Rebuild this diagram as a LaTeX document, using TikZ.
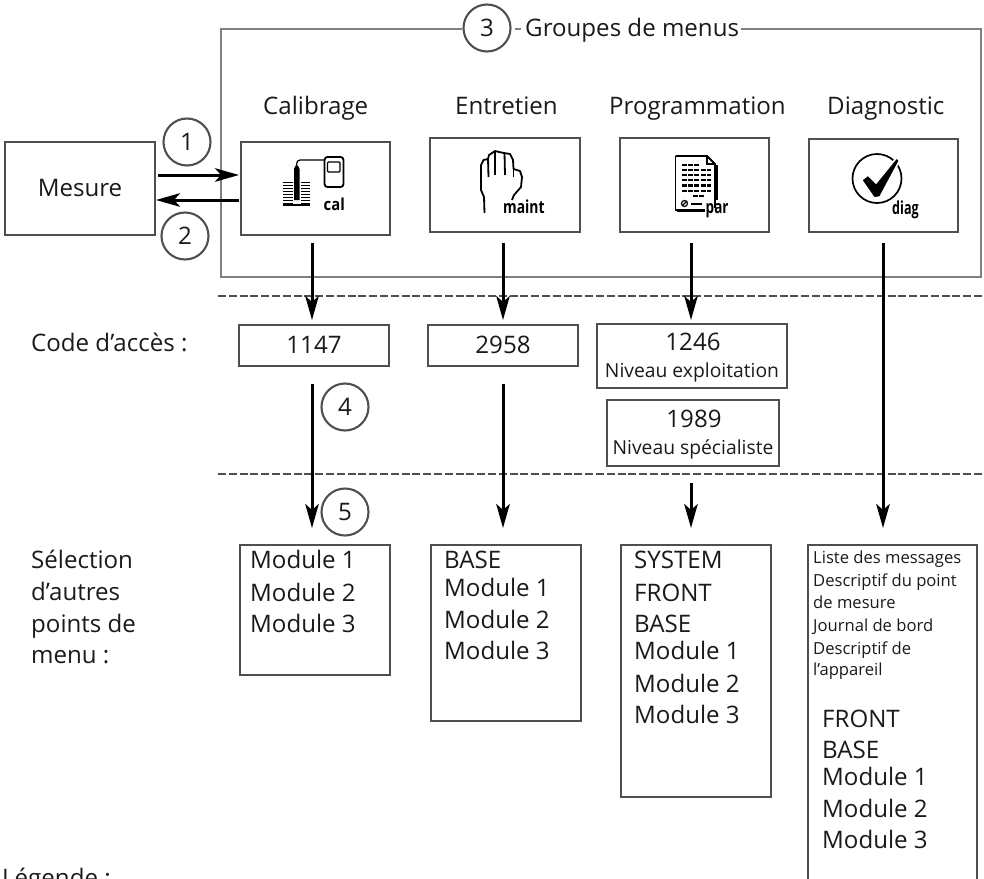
\documentclass[tikz,border=0pt]{standalone}
\usepackage{fontspec}
\setmainfont{Open Sans}
\usetikzlibrary{arrows.meta}
\definecolor{boxgray}{HTML}{4F4F4F}
\definecolor{framegray}{HTML}{808080}
\definecolor{ink}{HTML}{1A1A1A}
\newcommand{\fbig}{\fontsize{24.1}{28}\selectfont}
\newcommand{\fmid}{\fontsize{19.3}{23}\selectfont}
\newcommand{\fsmall}{\fontsize{16.6}{20}\selectfont}
\newcommand{\iconfont}{\fontsize{16.5}{18}\bfseries\selectfont}
\newcommand{\iconfontb}{\fontsize{18}{20}\bfseries\selectfont}
\tikzset{
  boxnode/.style={draw=boxgray,line width=2.9pt,fill=white,inner sep=0pt,text=ink},
  framepath/.style={draw=framegray,line width=2.9pt},
  numcircle/.style={circle,draw=boxgray,line width=2.1pt,fill=white,minimum size=47pt,inner sep=0pt,font=\fbig,text=ink},
  biglabel/.style={anchor=base west,inner sep=0pt,font=\fbig,text=ink},
  smalllabel/.style={anchor=base west,inner sep=0pt,font=\fsmall,text=ink},
  midcenter/.style={anchor=base,inner sep=0pt,font=\fmid,text=ink},
  bigcenter/.style={anchor=base,inner sep=0pt,font=\fbig,text=ink},
  iconlabel/.style={anchor=base west,inner sep=0pt,font=\iconfont,text=black},
  iconlabelb/.style={anchor=base west,inner sep=0pt,font=\iconfontb,text=black},
  flow/.style={draw=black,line width=3pt,-{Stealth[length=24pt,width=13.5pt,inset=6pt]}},
  separator/.style={draw=boxgray,line width=2.7pt,dash pattern=on 8pt off 2.8pt},
  iconline/.style={draw=black,line width=1.8pt,line join=round}
}
\begin{document}
\begin{tikzpicture}[x=1pt,y=-1pt]
\useasboundingbox (0,0) rectangle (984,878);
\clip (0,0) rectangle (984,878);

% numbered circle and title of the frame
\node[numcircle] (c3) at (487,28) {3};
\node[biglabel] (grp) at (525,36) {Groupes de menus};
\coordinate (dashL) at (515,29);
\coordinate (dashR) at (521,29);
\coordinate (fTL) at (221,29);
\coordinate (fBL) at (221,277);
\coordinate (fBR) at (981,277);
\coordinate (fTR) at (981,29);
\draw[framepath] (c3.west |- fTL) -- (fTL) -- (fBL) -- (fBR) -- (fTR) -- ([xshift=2pt]grp.east |- fTR);
\draw[framepath] (dashL) -- (dashR);

% separators
\coordinate (s1L) at (218,296); \coordinate (s1R) at (984,296);
\coordinate (s2L) at (218,474); \coordinate (s2R) at (984,474);
\draw[separator] (s1L) -- (s1R);
\draw[separator] (s2L) -- (s2R);

% group titles
\node[biglabel] (tcal) at (263,114) {Calibrage};
\node[biglabel] (tent) at (455,114) {Entretien};
\node[biglabel] (tpro) at (609,114) {Programmation};
\node[biglabel] (tdia) at (827,114) {Diagnostic};

% top boxes
\node[boxnode,minimum width=150pt,minimum height=93pt,font=\fbig] (mes) at (80,188.5) {Mesure};
\node[boxnode,minimum width=149pt,minimum height=93pt] (cal) at (315.5,188.5) {};
\node[boxnode,minimum width=150pt,minimum height=94pt] (ent) at (505,185) {};
\node[boxnode,minimum width=149pt,minimum height=94pt] (pro) at (694.5,185) {};
\node[boxnode,minimum width=149pt,minimum height=93pt] (dia) at (883.5,185.5) {};

% icon: calibration
\draw[black,line width=1.8pt,rounded corners=3pt] (324.5,157) rectangle (343.5,187);
\draw[black,line width=1.2pt,rounded corners=1pt] (327.5,162) rectangle (340,172);
\draw[black,line width=1.2pt,rounded corners=3pt] (324.5,160) -- (297,160) -- (296.5,168);
\fill[black] (294,169) -- (295.5,165.5) -- (298,165.5) -- (299.5,169) -- (299.5,200) -- (294,200) -- cycle;
\foreach \yy in {182.5,185.5,188.5,191.5,194.5,197.5,200.5,203.5}{
  \draw[black,line width=1.6pt] (283,\yy) -- (292.5,\yy);
  \draw[black,line width=1.6pt] (301,\yy) -- (310,\yy);
}
\draw[black,line width=1.6pt] (283,205) -- (310,205);
\node[iconlabel] (lcal) at (323.5,210) {\scalebox{0.9}[1]{cal}};

% icon: maintenance hand
\draw[iconline] (484.5,213) -- (484,197) -- (481,190) -- (481,165) -- (483.5,160) -- (488,159)
  (488,159) -- (489,155) -- (495,151) -- (499,152) -- (504,153) -- (510,154) -- (513,160) -- (513.5,169)
  -- (520,171) -- (522,177) -- (521,187) -- (514,195) -- (512,200);
\draw[iconline] (488,159) -- (488.5,177);
\draw[iconline] (495,151) -- (495,175);
\draw[iconline] (504.5,153) -- (505,175);
\draw[iconline] (513.5,162) -- (513.5,177);
\node[iconlabelb] (lent) at (503,213) {\scalebox{0.77}[1]{maint}};

% icon: parameter sheet
\draw[black,line width=1.8pt] (675.5,156) -- (707,156) -- (715,164) -- (715,208);
\draw[black,line width=1.8pt] (675.5,156) -- (675.5,210) -- (705,210);
\draw[black,line width=1.2pt] (707,156) -- (707,164) -- (715,164);
\draw[black,line width=2.2pt] (716.5,165) -- (716.5,200);
\draw[black,line width=2.2pt] (677,211) -- (705,211);
\foreach \yy/\xa/\xb in {165/682/700, 170/682/711, 175/682/711, 180/682/711, 185.5/682/711, 191/682/711, 196/693/705}{
  \draw[black,line width=2.2pt,dash pattern=on 5pt off 1.2pt] (\xa,\yy) -- (\xb,\yy);
}
\draw[black,line width=1.2pt] (684.5,203.5) circle (3pt);
\draw[black,line width=1.2pt] (682,206) -- (687,201);
\draw[black,line width=1.8pt] (691,204) -- (702,204);
\node[iconlabelb] (lpro) at (705.5,213) {\scalebox{0.75}[1]{par}};

% icon: diagnosis check
\draw[black,line width=1.7pt] (877,178.5) circle (24.5pt);
\fill[black,draw=white,line width=1.6pt] (861.5,180) -- (868,175) -- (876,183) -- (896.7,157.5) -- (899.5,160.7) -- (880,197) -- (874,198) -- cycle;
\node[iconlabelb] (ldia) at (892,214) {\scalebox{0.7}[1]{diag}};

% circles 1 2
\node[numcircle] (c1) at (187,142) {1};
\node[numcircle] (c2) at (185,236) {2};
\coordinate (a1s) at (158,175); \coordinate (a1e) at (239,175);
\coordinate (a2s) at (239,200); \coordinate (a2e) at (156,200);
\draw[flow] (a1s) -- (a1e);
\draw[flow] (a2s) -- (a2e);

% access codes
\node[biglabel] (lcode) at (31,351) {Code d’accès :};
\node[boxnode,minimum width=150pt,minimum height=41pt] (k1) at (314,345.5) {};
\node[bigcenter] (k1t) at (314,353) {1147};
\node[boxnode,minimum width=150pt,minimum height=41pt] (k2) at (503,345.5) {};
\node[bigcenter] (k2t) at (503,353) {2958};
\node[boxnode,minimum width=190pt,minimum height=64pt] (k3) at (692,356) {};
\node[bigcenter] (k3t) at (693,350) {1246};
\node[midcenter] (k3s) at (692,377) {Niveau exploitation};
\node[boxnode,minimum width=172pt,minimum height=66pt] (k4) at (693,433) {};
\node[bigcenter] (k4t) at (694,427) {1989};
\node[midcenter] (k4s) at (693,454) {Niveau spécialiste};

% vertical arrows
\coordinate (v1a) at (312,243); \coordinate (v1b) at (312,320);
\coordinate (v2a) at (503,243); \coordinate (v2b) at (503,320);
\coordinate (v3a) at (691,243); \coordinate (v3b) at (691,320);
\coordinate (v4a) at (883,243); \coordinate (v4b) at (883,528);
\coordinate (v5a) at (312,384); \coordinate (v5b) at (312,528);
\coordinate (v6a) at (503,384); \coordinate (v6b) at (503,528);
\coordinate (v7a) at (691,483); \coordinate (v7b) at (691,528);
\draw[flow] (v1a) -- (v1b);
\draw[flow] (v2a) -- (v2b);
\draw[flow] (v3a) -- (v3b);
\draw[flow] (v4a) -- (v4b);
\draw[flow] (v5a) -- (v5b);
\draw[flow] (v6a) -- (v6b);
\draw[flow] (v7a) -- (v7b);
\node[numcircle] (c4) at (345,407) {4};
\node[numcircle] (c5) at (345,512) {5};

% selection
\node[biglabel] (ls1) at (31,568) {Sélection};
\node[biglabel] (ls2) at (31,600) {d’autres};
\node[biglabel] (ls3) at (31,632) {points de};
\node[biglabel] (ls4) at (31,663) {menu :};

\node[boxnode,minimum width=150pt,minimum height=130pt] (m1) at (315,610) {};
\node[boxnode,minimum width=150pt,minimum height=176pt] (m2) at (506,633) {};
\node[boxnode,minimum width=150pt,minimum height=252pt] (m3) at (696,671) {};
\node[boxnode,minimum width=169pt,minimum height=400pt] (m4) at (892.5,745) {};

\node[biglabel] (m1a) at (250,568) {Module 1};
\node[biglabel] (m1b) at (250,601) {Module 2};
\node[biglabel] (m1c) at (250,632) {Module 3};

\node[biglabel] (m2a) at (444,568) {BASE};
\node[biglabel] (m2b) at (444,596) {Module 1};
\node[biglabel] (m2c) at (444,628) {Module 2};
\node[biglabel] (m2d) at (444,659) {Module 3};

\node[biglabel] (m3a) at (634,568) {SYSTEM};
\node[biglabel] (m3b) at (634,601) {FRONT};
\node[biglabel] (m3c) at (634,632) {BASE};
\node[biglabel] (m3d) at (634,659) {Module 1};
\node[biglabel] (m3e) at (634,692) {Module 2};
\node[biglabel] (m3f) at (634,723) {Module 3};

\node[smalllabel] (d1) at (813,563) {Liste des messages};
\node[smalllabel] (d2) at (813,586) {Descriptif du point};
\node[smalllabel] (d3) at (813,608) {de mesure};
\node[smalllabel] (d4) at (813,631) {Journal de bord};
\node[smalllabel] (d5) at (813,654) {Descriptif de};
\node[smalllabel] (d6) at (813,675) {l’appareil};
\node[biglabel] (d7) at (822,727) {FRONT};
\node[biglabel] (d8) at (822,758) {BASE};
\node[biglabel] (d9) at (822,785) {Module 1};
\node[biglabel] (d10) at (822,817) {Module 2};
\node[biglabel] (d11) at (822,848) {Module 3};

\node[biglabel] (leg) at (2,886) {Légende :};
\end{tikzpicture}
\end{document}
